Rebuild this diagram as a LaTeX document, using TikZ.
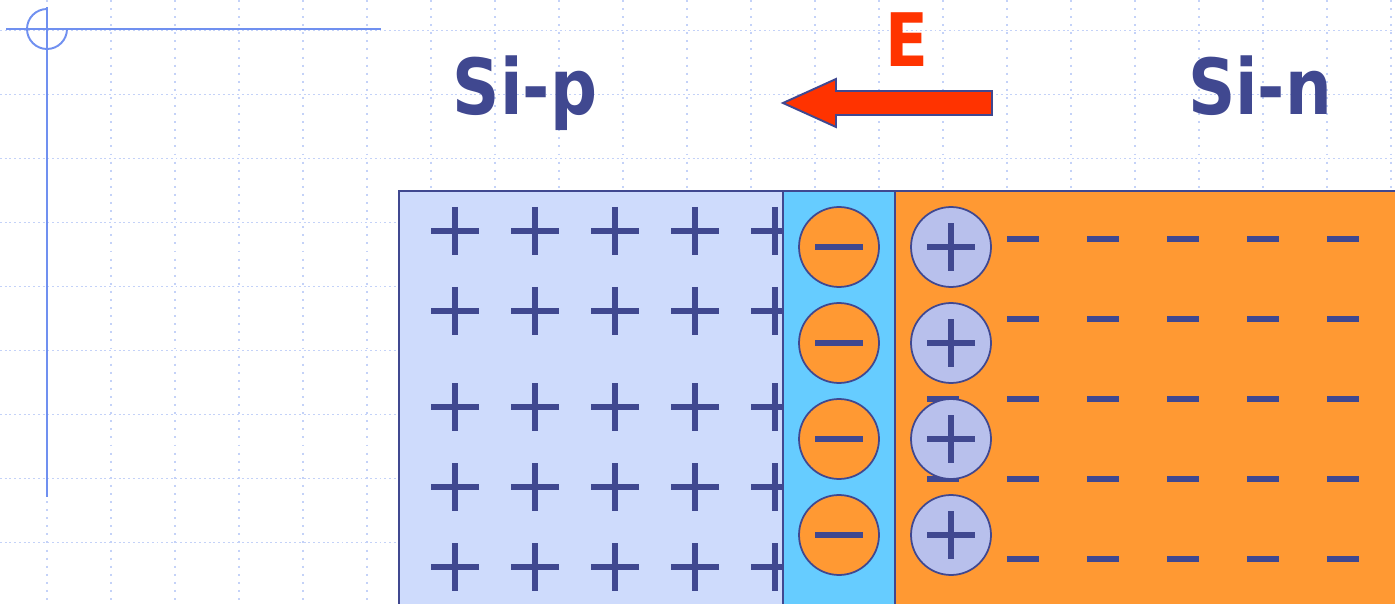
\documentclass[tikz,border=0pt]{standalone}
\usepackage{fontspec}
\newfontfamily\labelfont[FakeStretch=0.85]{DejaVu Sans}
\usetikzlibrary{arrows.meta}

\definecolor{chargeblue}{RGB}{64,72,144}
\definecolor{pfill}{RGB}{206,219,252}
\definecolor{stripfill}{RGB}{102,204,255}
\definecolor{nfill}{RGB}{255,153,51}
\definecolor{holefill}{RGB}{184,192,236}
\definecolor{fieldred}{RGB}{255,51,0}
\definecolor{gridblue}{RGB}{196,210,248}
\definecolor{axisblue}{RGB}{112,144,240}

\begin{document}
\begin{tikzpicture}[
    x=0.02cm, y=-0.02cm,
    gridh/.style={gridblue, line width=1pt, dash pattern=on 1.1pt off 1.6pt},
    gridv/.style={gridblue, line width=1pt, dash pattern=on 1.1pt off 3.5pt},
    axisline/.style={axisblue, line width=1.1pt},
    region/.style={draw=chargeblue, line width=1.1pt},
    sign/.style={chargeblue, line width=3.4pt},
    dash sign/.style={chargeblue, line width=3.1pt},
    ion/.style={circle, draw=chargeblue, line width=1pt, minimum size=1.6cm,
                inner sep=0pt},
    title/.style={font=\labelfont\bfseries\fontsize{44}{48}\selectfont,
                  inner sep=0pt, anchor=base}
  ]
  \useasboundingbox (0,0) rectangle (1395,604);
  \clip (0,0) rectangle (1395,604);

  % Dotted background grid
  \foreach \k in {0,...,8}
    \draw[gridh] (0,30.5+64*\k) -- (1395,30.5+64*\k);
  \foreach \k in {0,...,21}
    \draw[gridv] (47+64*\k,0) -- (47+64*\k,604);

  % Corner axis mark
  \draw[axisline] (6,29) -- (381,29);
  \draw[axisline] (47,7) -- (47,497);
  \draw[axisline] (47,9) arc[start angle=270, end angle=0, radius=20];

  % p side with holes
  \draw[region, fill=pfill] (399,191) rectangle (783,620);
  \foreach \y in {231,311,407,487,567} {
    \foreach \x in {455,535,615,695,775} {
      \draw[sign] (\x-24,\y) -- (\x+24,\y) (\x,\y-24) -- (\x,\y+24);
    }
  }

  % Depletion strip and n side with electrons
  \draw[region, fill=stripfill] (783,191) rectangle (895,620);
  \draw[region, fill=nfill] (895,191) rectangle (1420,620);
  \foreach \y in {239,319,399,479,559} {
    \foreach \x in {943,1023,1103,1183,1263,1343} {
      \draw[dash sign] (\x-16,\y) -- (\x+16,\y);
    }
  }

  % Fixed ions at the junction
  \foreach \i/\y in {1/247,2/343,3/439,4/535} {
    \node[ion, fill=nfill] (acc\i) at (839,\y) {};
    \draw[sign] ([xshift=-0.48cm]acc\i.center) -- ([xshift=0.48cm]acc\i.center);
    \node[ion, fill=holefill] (don\i) at (951,\y) {};
    \draw[sign] ([xshift=-0.48cm]don\i.center) -- ([xshift=0.48cm]don\i.center)
                ([yshift=-0.48cm]don\i.center) -- ([yshift=0.48cm]don\i.center);
  }

  % Field arrow and labels
  \draw[chargeblue, line width=1.1pt, fill=fieldred]
    (783,103) -- (836,79) -- (836,91) -- (992,91) -- (992,115)
    -- (836,115) -- (836,127) -- cycle;
  \node[title, text=fieldred, font=\labelfont\bfseries\fontsize{42}{46}\selectfont]
    (efield) at (907,66.5) {E};
  \node[title, text=chargeblue] (sip) at (525,115) {Si-p};
  \node[title, text=chargeblue] (sin) at (1260,115) {Si-n};
\end{tikzpicture}
\end{document}
